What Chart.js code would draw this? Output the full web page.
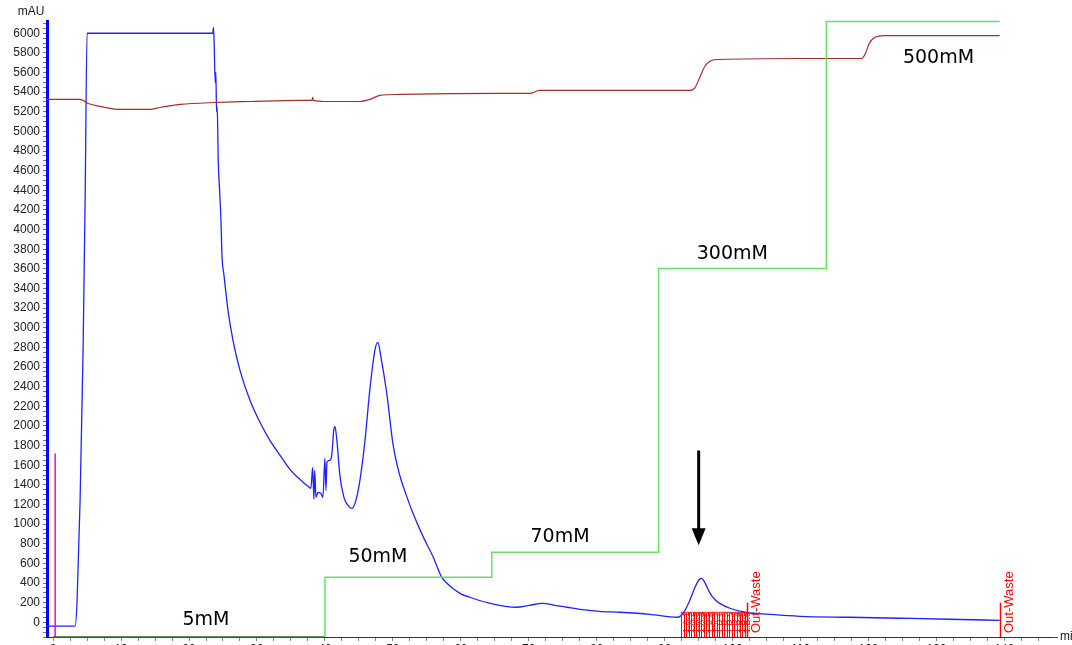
<!DOCTYPE html>
<html><head><meta charset="utf-8">
<script src="https://cdn.jsdelivr.net/npm/chart.js@4.4.1/dist/chart.umd.min.js"></script>
<style>html,body{margin:0;padding:0;overflow:hidden;background:#fff}#wrap{width:1072px;height:660px}</style>
</head><body><div id="wrap"><canvas id="c" width="1072" height="660"></canvas></div>
<script>
// ---- data (minutes, mAU) ----
const uvTime = [-0.9,3.24,3.53,3.97,4.41,4.71,5.0,23.5,23.6,23.7,23.85,23.95,24.05,24.15,24.3,24.5,24.7,24.85,25.15,25.74,26.47,27.5,28.97,30.44,31.9,33.4,34.85,36.3,37.5,37.94,38.2,38.38,38.5,38.68,38.97,39.4,39.7,40.0,40.15,40.3,40.7,41.0,41.3,41.47,41.76,42.2,42.8,43.4,43.97,44.56,45.15,45.9,46.6,47.35,47.8,48.2,49.1,50.0,51.0,52.0,52.9,54.4,55.9,57.2,58.0,58.8,60.0,61.3,64.3,68.2,70.1,72.06,73.8,75.6,77.5,80.4,83.4,87.8,91.9,92.9,93.7,94.4,95.1,95.4,95.9,96.6,97.35,98.1,99.6,101.8,105.4,109.9,117.2,124.6,131.9,139.3];
const uvMAU = [-40,-40,224,1242,2770,4297,6000,6000,6060,5900,5500,5600,5200,5250,4700,4400,4100,3737,3534,3177,2872,2566,2261,2037,1853,1701,1558,1456,1385,1365,1578,1253,1548,1273,1324,1314,1273,1670,1344,1629,1650,1700,1955,1996,1853,1497,1273,1191,1161,1242,1446,1853,2363,2770,2851,2719,2332,1823,1500,1290,1120,880,670,458,395,346,290,255,193,153,173,193,173,153,132,112,102,81,51,112,224,346,438,448,407,305,234,193,143,102,81,61,51,41,31,20];

const condTime = [-0.9,3.97,5.15,6.9,9.85,14.26,15.7,18.7,23.8,28.97,36.3,38.1,38.2,38.3,40.0,45.15,46.6,48.1,51.0,65.7,70.1,71.6,93.7,94.4,95.1,95.9,96.9,98.1,109.85,119.0,119.6,120.1,120.9,122.35,139.3];
const condValue = [5326,5326,5285,5255,5224,5224,5244,5275,5295,5305,5316,5316,5346,5316,5305,5305,5326,5367,5377,5387,5387,5418,5418,5438,5540,5662,5723,5733,5743,5743,5804,5896,5957,5977,5977];

const gradTime = [0,40.0,40.0,64.56,64.56,89.1,89.1,113.8,113.8,139.3];
const gradValue = [-150,-150,458,458,713,713,3605,3605,6120,6120];

const injectTime = [0.3,0.3];
const injectValue = [-150,1720];

const fractionTimes = [92.4,93.15,93.9,94.65,95.4,96.15,96.9,97.65,98.4,99.15,99.9,100.65,101.4];
const fractionLabels = ['1.A.1','1.A.2','1.A.3','1.A.4','1.A.5','1.A.6','1.A.7','1.B.1','1.B.2','1.B.3','1.B.4','1.B.5','1.B.6'];
const wasteTimes = [102.1,139.4];
const wasteLabels = ['Out-Waste','Out-Waste'];

const stepLabels = ['5mM','50mM','70mM','300mM','500mM'];
const stepLabelTime = [22.5,47.8,74.6,99.96,130.3];
const stepLabelValue = [20,662,866,3747,5743];

const arrowTime = 95.0;
const arrowFrom = 1750, arrowTo = 785;

const xTickValues = []; for (let v = 0; v <= 145; v += 2.5) xTickValues.push(v);
const yTickValues = []; for (let v = -150; v <= 6100; v += 50) yTickValues.push(v);

const pts = (xs, ys) => xs.map((x, i) => ({x, y: ys[i]}));

const overlay = {
  id: 'overlay',
  afterDatasetsDraw(chart) {
    const {ctx, scales: {x, y}, chartArea} = chart;
    ctx.save();
    // fractions
    ctx.strokeStyle = '#ff0000'; ctx.fillStyle = '#ff0000'; ctx.lineWidth = 1;
    const base = y.getPixelForValue(-150);
    const top = y.getPixelForValue(90);
    const all = fractionTimes.concat([wasteTimes[0]]);
    for (let i = 0; i < fractionTimes.length; i++) {
      const x0 = x.getPixelForValue(all[i]), x1 = x.getPixelForValue(all[i+1]);
      const xm = (x0 + x1) / 2;
      ctx.beginPath();
      ctx.moveTo(Math.round(x0)+0.5, base); ctx.lineTo(Math.round(x0)+0.5, top);
      ctx.moveTo(Math.round(xm)+0.5, base); ctx.lineTo(Math.round(xm)+0.5, top);
      ctx.stroke();
      ctx.beginPath();
      ctx.arc((x0+xm)/2, top, (xm-x0)/2, Math.PI, 0); ctx.stroke();
      ctx.beginPath();
      ctx.arc((xm+x1)/2, top, (x1-xm)/2, Math.PI, 0); ctx.stroke();
      ctx.save();
      ctx.translate(x0 + 8, base - 4);
      ctx.rotate(-Math.PI/2);
      ctx.font = '9px "Liberation Sans", Arial, sans-serif';
      ctx.textBaseline = 'alphabetic'; ctx.textAlign = 'left';
      ctx.fillText(fractionLabels[i], 0, 0);
      ctx.restore();
    }
    for (let i = 0; i < wasteTimes.length; i++) {
      const px = Math.round(x.getPixelForValue(wasteTimes[i])) + 0.5;
      ctx.lineWidth = 1.5;
      ctx.beginPath(); ctx.moveTo(px, base); ctx.lineTo(px, y.getPixelForValue(200)); ctx.stroke();
      ctx.save();
      ctx.translate(px + 12, base - 4);
      ctx.rotate(-Math.PI/2);
      ctx.font = '13px "Liberation Sans", Arial, sans-serif';
      ctx.textAlign = 'left';
      ctx.fillText(wasteLabels[i], 0, 0);
      ctx.restore();
    }
    // step labels
    ctx.fillStyle = '#000';
    ctx.font = '19px "DejaVu Sans", Verdana, sans-serif';
    ctx.textAlign = 'center'; ctx.textBaseline = 'middle';
    stepLabels.forEach((t, i) => ctx.fillText(t, x.getPixelForValue(stepLabelTime[i]), y.getPixelForValue(stepLabelValue[i])));
    // arrow
    const ax = x.getPixelForValue(arrowTime);
    const ay0 = y.getPixelForValue(arrowFrom), ay1 = y.getPixelForValue(arrowTo);
    ctx.strokeStyle = '#000'; ctx.lineWidth = 3;
    ctx.beginPath(); ctx.moveTo(ax, ay0); ctx.lineTo(ax, ay1 - 14); ctx.stroke();
    ctx.beginPath(); ctx.moveTo(ax - 7, ay1 - 17); ctx.lineTo(ax + 7, ay1 - 17); ctx.lineTo(ax, ay1); ctx.closePath(); ctx.fill();
    // axis titles
    ctx.font = '12px "Liberation Sans", Arial, sans-serif';
    ctx.fillStyle = '#222';
    ctx.textAlign = 'center'; ctx.textBaseline = 'middle';
    ctx.fillText('mAU', 31, 12);
    ctx.textAlign = 'left';
    ctx.fillText('min', chartArea.right + 8, chartArea.bottom);
    ctx.strokeStyle = '#444'; ctx.lineWidth = 1;
    ctx.beginPath(); ctx.moveTo(chartArea.right, chartArea.bottom + 0.5); ctx.lineTo(chartArea.right + 6, chartArea.bottom + 0.5); ctx.stroke();
    ctx.restore();
  }
};

new Chart(document.getElementById('c'), {
  type: 'line',
  data: {
    datasets: [
      {data: pts(gradTime, gradValue), borderColor: '#66e066', borderWidth: 1.5, pointRadius: 0, tension: 0, clip: false,
        segment: {borderColor: c => (c.p0DataIndex === 0 ? '#2d6e2d' : undefined)}},
      {data: pts(condTime, condValue), borderColor: '#a03030', borderWidth: 1.2, pointRadius: 0, cubicInterpolationMode: 'monotone'},
      {data: pts(injectTime, injectValue), borderColor: '#ff00cc', borderWidth: 1.5, pointRadius: 0, tension: 0},
      {data: pts(uvTime, uvMAU), borderColor: '#2222ff', borderWidth: 1.3, pointRadius: 0, cubicInterpolationMode: 'monotone'}
    ]
  },
  options: {
    responsive: false, animation: false, devicePixelRatio: 1,
    layout: {padding: {top: 21, right: 20, left: 0, bottom: 0}},
    plugins: {legend: {display: false}, tooltip: {enabled: false}},
    scales: {
      x: {
        type: 'linear', min: -0.9, max: 147,
        afterBuildTicks: a => { a.ticks = xTickValues.map(v => ({value: v})); },
        afterFit: s => { s.height = 23; },
        border: {color: '#333', width: 1},
        grid: {drawOnChartArea: false, tickLength: 4, tickColor: '#888'},
        ticks: {autoSkip: false, maxRotation: 0, padding: 1, color: '#222',
          font: {family: '"Liberation Sans", Arial, sans-serif', size: 12},
          callback: v => (v % 10 === 0 ? String(v) : '')}
      },
      y: {
        type: 'linear', min: -150, max: 6125,
        afterBuildTicks: a => { a.ticks = yTickValues.map(v => ({value: v})); },
        afterFit: s => { s.width = 47; },
        border: {color: '#0000ff', width: 3},
        grid: {drawOnChartArea: false, tickLength: 4, tickColor: '#777'},
        ticks: {autoSkip: false, padding: 3, color: '#222',
          font: {family: '"Liberation Sans", Arial, sans-serif', size: 12},
          callback: v => (v % 200 === 0 && v >= 0 ? String(v) : '')}
      }
    }
  },
  plugins: [overlay]
});
</script>
</body></html>
